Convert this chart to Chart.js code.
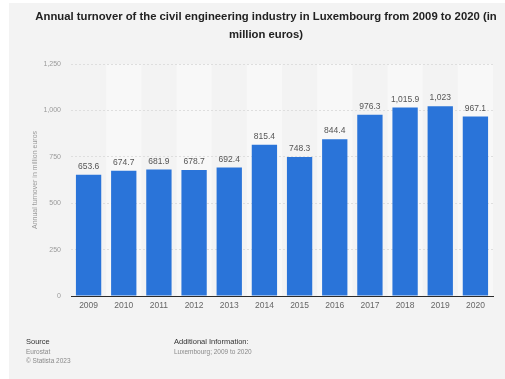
<!DOCTYPE html>
<html>
<head>
<meta charset="utf-8">
<script src="https://cdn.jsdelivr.net/npm/chart.js@4"></script>
<style>
  html, body { margin: 0; padding: 0; background: #ffffff; }
  #wrap { position: absolute; left: 0; top: 0; width: 505px; height: 379px; }
</style>
</head>
<body>
<div id="wrap"><canvas id="turnoverChart" width="505" height="379"></canvas></div>
<script>
const years = ["2009", "2010", "2011", "2012", "2013", "2014", "2015", "2016", "2017", "2018", "2019", "2020"];
const turnover = [653.6, 674.7, 681.9, 678.7, 692.4, 815.4, 748.3, 844.4, 976.3, 1015.9, 1023, 967.1];
const yTicks = [0, 250, 500, 750, 1000, 1250];

const titleLines = [
  "Annual turnover of the civil engineering industry in Luxembourg from 2009 to 2020 (in",
  "million euros)",
];

const FONT = "'Liberation Sans', Arial, sans-serif";

// light grey card behind everything, plus the alternating column bands
const backdrop = {
  id: "backdrop",
  beforeDraw(chart) {
    const { ctx, chartArea, scales } = chart;
    ctx.save();
    ctx.fillStyle = "#f3f3f3";
    ctx.fillRect(9, 3, chart.width - 9, chart.height - 3);

    const step = scales.x.getPixelForValue(1) - scales.x.getPixelForValue(0);
    ctx.fillStyle = "#f8f8f8";
    years.forEach((y, i) => {
      if (i % 2 === 1) {
        const cx = scales.x.getPixelForValue(i);
        ctx.fillRect(cx - step / 2, chartArea.top, step, chartArea.bottom - chartArea.top);
      }
    });
    ctx.restore();
  },
};

// title, value labels and footer text
const texts = {
  id: "texts",
  afterDatasetsDraw(chart) {
    const { ctx } = chart;
    ctx.save();

    ctx.fillStyle = "#222";
    ctx.font = "bold 11.3px " + FONT;
    ctx.textAlign = "center";
    ctx.textBaseline = "middle";
    ctx.fillText(titleLines[0], 266, 17);
    ctx.fillText(titleLines[1], 266, 35);

    ctx.font = "8.5px " + FONT;
    ctx.fillStyle = "#555";
    ctx.textBaseline = "bottom";
    chart.getDatasetMeta(0).data.forEach((bar, i) => {
      ctx.fillText(turnover[i].toLocaleString("en-US"), bar.x, bar.y - 4);
    });

    ctx.textAlign = "left";
    ctx.textBaseline = "middle";
    ctx.fillStyle = "#333";
    ctx.font = "7.5px " + FONT;
    ctx.fillText("Source", 26, 342);
    ctx.fillText("Additional Information:", 174, 342);
    ctx.fillStyle = "#8a8a8a";
    ctx.font = "6.5px " + FONT;
    ctx.fillText("Eurostat", 26, 352);
    ctx.fillText("\u00a9 Statista 2023", 26, 361);
    ctx.fillText("Luxembourg; 2009 to 2020", 174, 352);

    ctx.restore();
  },
};

new Chart(document.getElementById("turnoverChart"), {
  type: "bar",
  data: {
    labels: years,
    datasets: [
      {
        data: turnover,
        backgroundColor: "#2a74d9",
        barPercentage: 0.72,
        categoryPercentage: 1,
      },
    ],
  },
  options: {
    responsive: false,
    animation: false,
    layout: {
      padding: { left: 31, top: 64, right: 12, bottom: 63 },
    },
    plugins: {
      legend: { display: false },
      tooltip: { enabled: false },
    },
    scales: {
      x: {
        afterFit(scale) {
          scale.height = 20;
        },
        grid: { display: false, drawTicks: false },
        border: { display: true, color: "#2b2b2b", width: 1 },
        ticks: {
          color: "#666",
          font: { family: FONT, size: 8.5 },
          padding: 5,
        },
      },
      y: {
        min: 0,
        max: 1250,
        afterFit(scale) {
          scale.width = 40;
        },
        afterBuildTicks(scale) {
          scale.ticks = yTicks.map((v) => ({ value: v }));
        },
        grid: {
          color: "#dedede",
          drawTicks: false,
        },
        border: { display: false, dash: [2, 2] },
        ticks: {
          color: "#9a9a9a",
          font: { family: FONT, size: 7 },
          padding: 10,
          callback: (v) => v.toLocaleString("en-US"),
        },
        title: {
          display: true,
          text: "Annual turnover in million euros",
          color: "#9a9a9a",
          font: { family: FONT, size: 7 },
          padding: 0,
        },
      },
    },
  },
  plugins: [backdrop, texts],
});
</script>
</body>
</html>
